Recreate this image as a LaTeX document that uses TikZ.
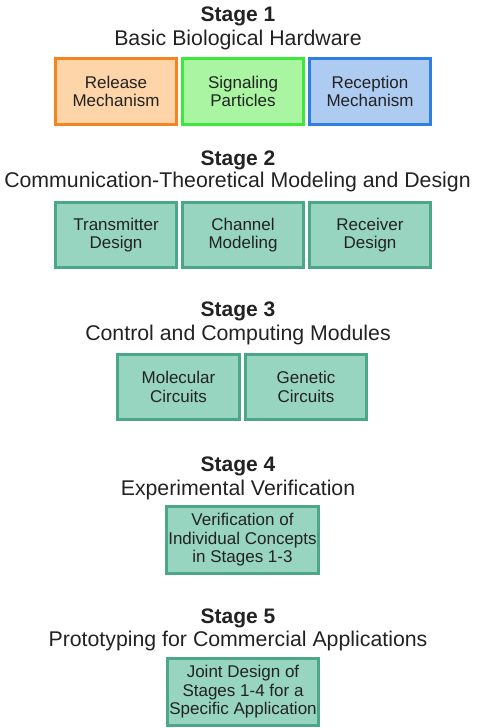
\documentclass[tikz,border=0pt]{standalone}
\usepackage{fontspec}
\setmainfont{Liberation Sans}
\usepackage{tikz}
\usetikzlibrary{positioning}

\definecolor{txtgray}{HTML}{222222}
\definecolor{relfill}{HTML}{FDD5A8}
\definecolor{reldraw}{HTML}{F5841F}
\definecolor{sigfill}{HTML}{AAF5A2}
\definecolor{sigdraw}{HTML}{3DE83A}
\definecolor{recfill}{HTML}{AECBF2}
\definecolor{recdraw}{HTML}{2F7FE0}
\definecolor{tealfill}{HTML}{98D5C0}
\definecolor{tealdraw}{HTML}{4BA68A}

\tikzset{
    stagehead/.style={anchor=base, text=txtgray, font=\fontsize{21}{24}\selectfont\bfseries},
    stagesub/.style={anchor=base, text=txtgray, font=\fontsize{21.3}{24}\selectfont},
    blockbox/.style={draw=tealdraw, fill=tealfill, line width=3pt, inner sep=0pt,
        minimum width=121pt, minimum height=65pt, align=center, text=txtgray,
        font=\fontsize{17}{18.5}\selectfont},
}

\begin{document}
\begin{tikzpicture}[x=1pt, y=-1pt]
    \useasboundingbox (0,0) rectangle (490,728);

    % stage 1
    \node[stagehead] (s1head) at (238,21.7) {Stage 1};
    \node[stagesub] (s1sub) at (238,45) {Basic Biological Hardware};
    \node[blockbox, draw=reldraw, fill=relfill, minimum height=66pt] (rel) at (116,91.5) {Release\\Mechanism};
    \node[blockbox, draw=sigdraw, fill=sigfill, minimum height=66pt, right=3pt of rel] (sig) {Signaling\\Particles};
    \node[blockbox, draw=recdraw, fill=recfill, minimum height=66pt, right=3pt of sig] (rec) {Reception\\Mechanism};

    % stage 2
    \node[stagehead] (s2head) at (238,165) {Stage 2};
    \node[stagesub] (s2sub) at (237.5,187) {Communication-Theoretical Modeling and Design};
    \node[blockbox] (tx) at (116,235) {Transmitter\\Design};
    \node[blockbox, right=3pt of tx] (ch) {Channel\\Modeling};
    \node[blockbox, right=3pt of ch] (rx) {Receiver\\Design};

    % stage 3
    \node[stagehead] (s3head) at (238,316.7) {Stage 3};
    \node[stagesub] (s3sub) at (238,340) {Control and Computing Modules};
    \node[blockbox, minimum width=122pt] (mol) at (178.5,387) {Molecular\\Circuits};
    \node[blockbox, right=3pt of mol] (gen) {Genetic\\Circuits};

    % stage 4
    \node[stagehead] (s4head) at (238,471.7) {Stage 4};
    \node[stagesub] (s4sub) at (238,495) {Experimental Verification};
    \node[blockbox, minimum width=152pt, minimum height=67pt] (verif) at (242.5,540) {Verification of\\Individual Concepts\\in Stages 1-3};

    % stage 5
    \node[stagehead] (s5head) at (238,623) {Stage 5};
    \node[stagesub] (s5sub) at (238,646) {Prototyping for Commercial Applications};
    \node[blockbox, minimum width=151pt, minimum height=67pt] (joint) at (243,692) {Joint Design of\\Stages 1-4 for a\\Specific Application};
\end{tikzpicture}
\end{document}
